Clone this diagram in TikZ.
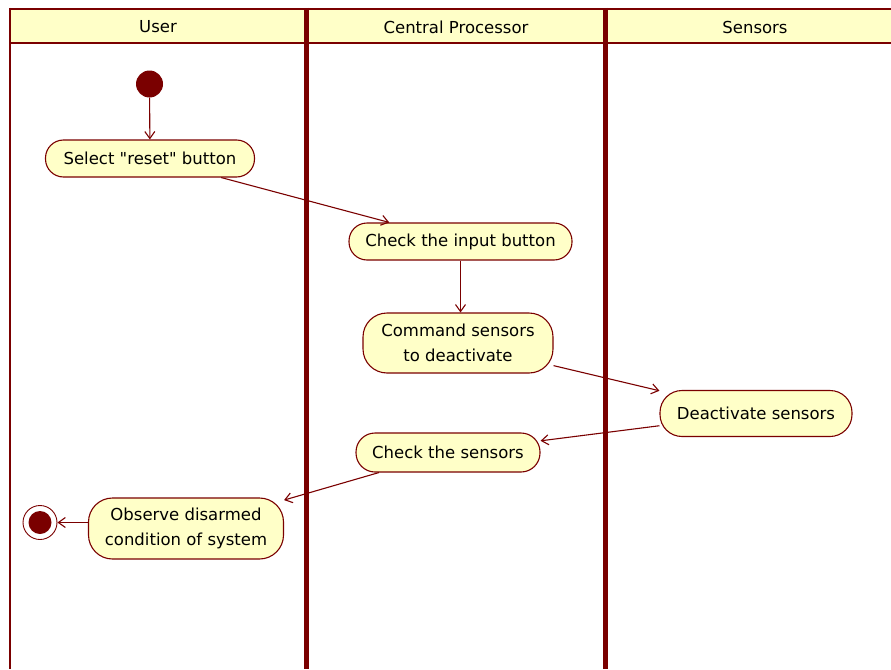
\documentclass[tikz,border=0pt]{standalone}
\usepackage{fontspec}
\defaultfontfeatures{}
\setmainfont{DejaVu Sans}[Ligatures=TeXOff]
\usetikzlibrary{arrows.meta}
\definecolor{umlred}{HTML}{7A0000}
\definecolor{umlfill}{HTML}{FFFFC8}
\tikzset{
  lane/.style={draw=umlred, line width=5pt},
  frame/.style={draw=umlred, line width=2.4pt},
  lanehead/.style={font=\fontsize{16.5}{18}\selectfont, text=black},
  action/.style={draw=umlred, fill=umlfill, line width=1.1pt, align=center,
    inner sep=0pt, font=\fontsize{16.5}{24.5}\selectfont, text=black},
  flow/.style={draw=umlred, line width=1.1pt,
    -{Straight Barb[length=7pt,width=10pt,line width=1.1pt]}},
  startnode/.style={circle, fill=umlred, minimum size=27pt, inner sep=0pt},
  endnode/.style={circle, draw=umlred, fill=white, line width=0.9pt,
    minimum size=34pt, inner sep=0pt},
}
\begin{document}
\begin{tikzpicture}[x=1pt,y=-1pt]
\useasboundingbox (0,0) rectangle (891,669);
% swimlane header band
\fill[umlfill] (10,9) rectangle (891,43);
\draw[frame] (10,9) -- (891,9);
\draw[frame] (10,43) -- (891,43);
\draw[draw=umlred, line width=2pt] (10,8) -- (10,669);
\draw[lane] (306,8) -- (306,669);
\draw[lane] (605,8) -- (605,669);
\node[lanehead] (hUser) at (158,27) {User};
\node[lanehead] (hCpu) at (456,27) {Central Processor};
\node[lanehead] (hSens) at (755,27) {Sensors};

% activity nodes
\node[startnode] (start) at (149.5,84) {};
\node[action, minimum width=209pt, minimum height=37pt, rounded corners=18pt]
  (select) at (150,158.5) {Select "reset" button};
\node[action, minimum width=223pt, minimum height=37pt, rounded corners=18pt]
  (checkin) at (460.5,241.5) {Check the input button};
\node[action, minimum width=190pt, minimum height=60pt, rounded corners=24pt]
  (command) at (458,343) {Command sensors\\to deactivate};
\node[action, minimum width=192pt, minimum height=46pt, rounded corners=22pt]
  (deact) at (756,413.5) {Deactivate sensors};
\node[action, minimum width=184pt, minimum height=39pt, rounded corners=19pt]
  (checks) at (448,452.5) {Check the sensors};
\node[action, minimum width=195pt, minimum height=61pt, rounded corners=24pt]
  (observe) at (186,528.5) {Observe disarmed\\condition of system};
\node[endnode] (final) at (40,522.5) {};
\fill[umlred] (final.center) circle (11.5pt);

% control flows
\draw[flow] (start) -- (select);
\draw[flow] (select) -- (checkin);
\draw[flow] (checkin.south) -- (checkin.south |- command.north);
\draw[flow] (command) -- (deact);
\draw[flow] (deact) -- (checks);
\draw[flow] (checks) -- (observe);
\draw[flow] (observe.west |- final) -- (final);
\end{tikzpicture}
\end{document}
